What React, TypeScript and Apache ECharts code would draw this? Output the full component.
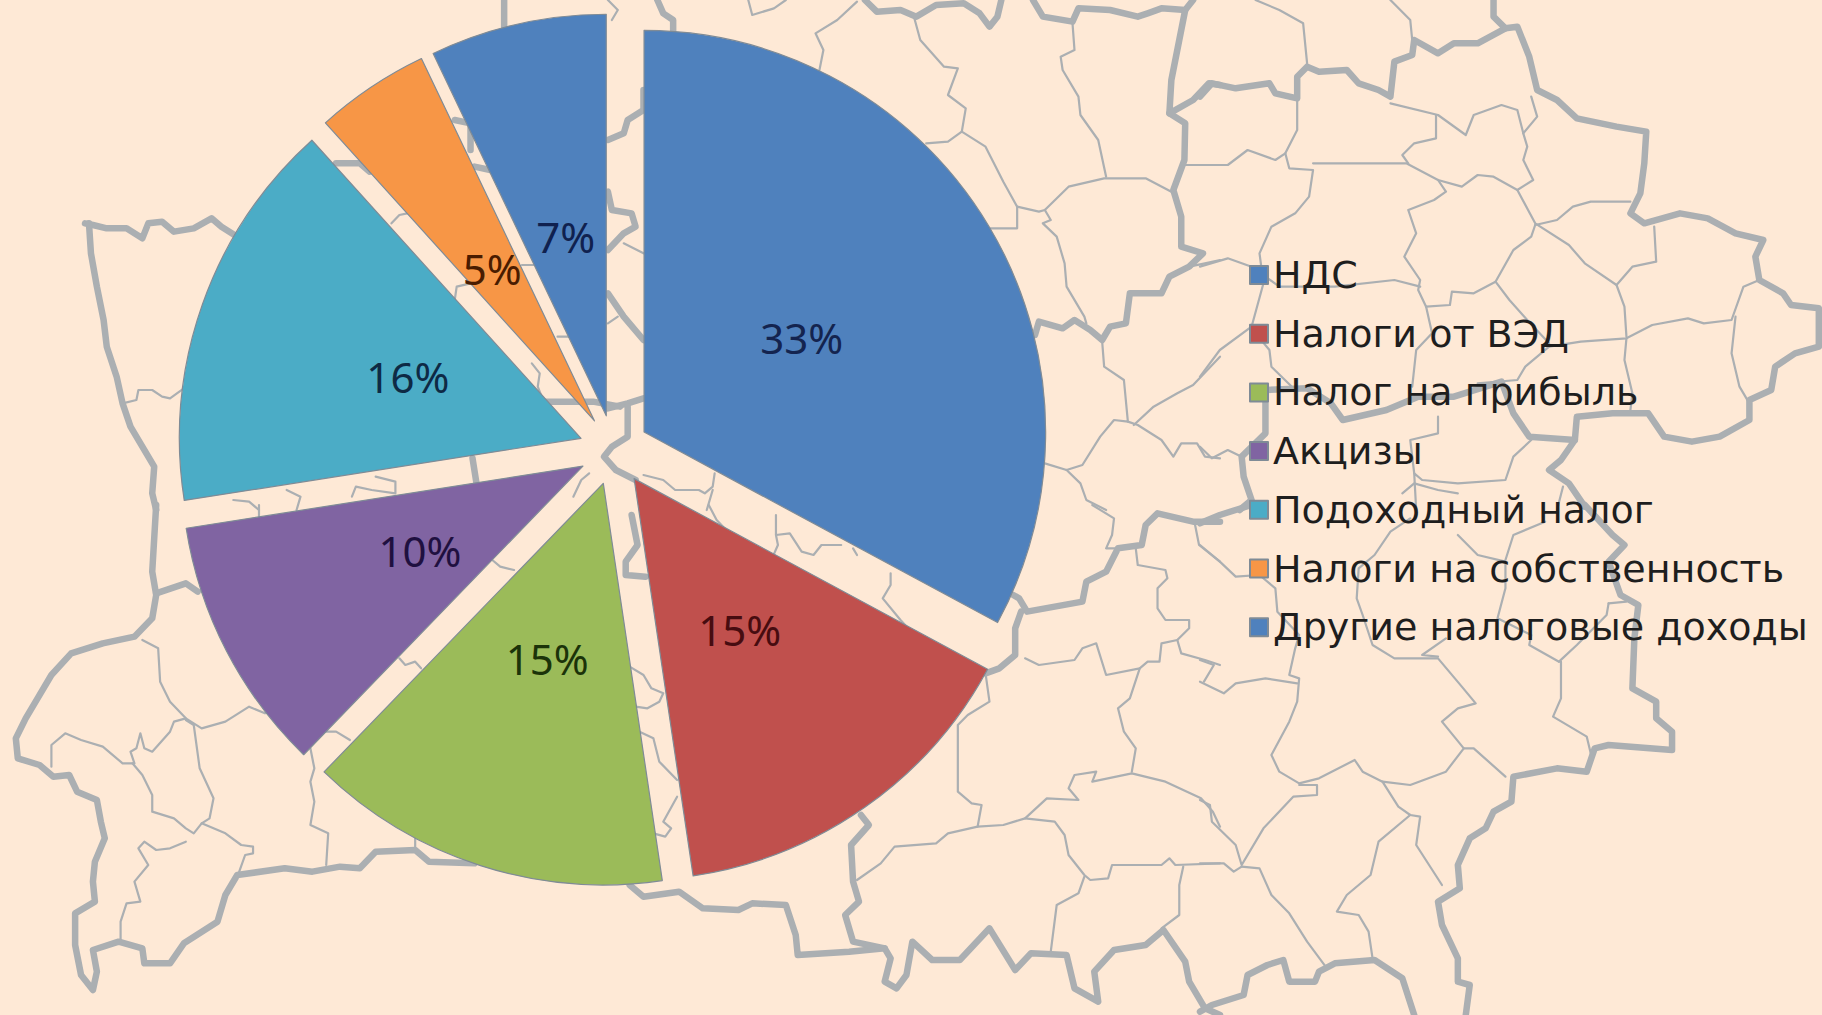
import React, { useEffect, useRef } from "react";
import * as echarts from "echarts";

const categories = ["НДС", "Налоги от ВЭД", "Налог на прибыль", "Акцизы", "Подоходный налог", "Налоги на собственность", "Другие налоговые доходы"];
const values = [32.9, 14.8, 14.6, 10.3, 15.8, 4.6, 7.1];
const colors = ["#4F81BD", "#C0504D", "#9BBB59", "#8064A2", "#4BACC6", "#F79646", "#4F81BD"];
const labelColors = ["#14244f", "#470c10", "#1b3309", "#1f1040", "#0e2a45", "#4a1c00", "#10214f"];

const crops: Record<string, [number, number, number]> = {
  A: [0, 0, 1568 / 620], B: [0, 505, 1568 / 620], C: [600, 0, 1568 / 620], D: [600, 505, 1568 / 620],
  E: [1200, 0, 1568 / 622], F: [1200, 505, 1568 / 622],
};
const thickLines: [string, number[]][] = [
  ["A", [215,670,235,675,270,685,320,685,360,715,375,670,410,665,440,695,490,685,535,655,560,680,600,710]],
  ["A", [225,670,230,760,245,860,262,960,270,1040,295,1130,310,1210,330,1280,360,1340,390,1400,385,1480,395,1530]],
  ["B", [395,0,390,100,385,200,395,270,385,340,340,395,260,415,180,445,130,510,95,580,65,640,40,700,45,760,100,780,135,815,175,810,195,860,245,885,255,950,265,1000,240,1070,235,1130,240,1190,190,1225,190,1320,205,1410,235,1455,245,1400,235,1335,300,1310,360,1330,365,1375,430,1375,465,1315,550,1250,570,1170,600,1110,720,1090,790,1100,860,1085,910,1090,950,1040,1050,1035,1085,1070,1200,1075]],
  ["B", [395,265,470,235,500,260]],
  ["A", [1275,0,1275,80]],
  ["A", [1150,360,1190,370,1190,450]],
  ["A", [1200,500,1240,510]],
  ["A", [850,490,910,490,935,515]],
  ["A", [1380,1205,1500,1205,1568,1220]],
  ["A", [1195,1375,1205,1450]],
  ["C", [145,0,160,40,185,60,185,100]],
  ["C", [20,420,60,400,70,360,110,330,110,270]],
  ["C", [20,575,30,630,80,640,90,680,60,700,20,750]],
  ["C", [20,880,60,950,110,1020]],
  ["C", [20,1225,70,1210,110,1195]],
  ["C", [70,1220,70,1310,30,1340,10,1370,40,1410,90,1440]],
  ["C", [670,0,700,35,760,30,800,50,850,15,920,10,960,40,985,80,1005,50,1015,0]],
  ["C", [1095,0,1120,50,1195,65,1210,25,1290,30,1360,50,1385,40,1420,25,1480,30,1500,0]],
  ["C", [1480,30,1465,120,1445,240,1440,340,1480,370,1478,480,1450,570,1470,650,1470,740,1525,760,1490,800,1440,830,1420,880,1340,880,1330,970,1290,980,1270,1020,1240,990,1200,960,1170,985,1110,965,1100,1005]],
  ["C", [1440,340,1500,300,1540,250,1568,255]],
  ["E", [0,290,30,250,90,265,175,250,190,280,245,295,245,230,270,200,300,215,370,210,400,250,450,270,480,290,490,185,535,165,540,120,600,160,640,130,700,130,770,85,740,50,740,0]],
  ["E", [770,85,800,80,830,170,850,270,900,300,950,355,1050,380,1125,395,1120,490,1110,580,1085,640,1120,670,1210,640,1280,655,1350,700,1420,720,1400,770,1410,840,1470,880,1490,915,1560,925,1560,1040,1500,1060,1450,1100,1440,1170,1385,1200,1385,1260,1310,1310,1240,1325,1170,1310,1130,1240,1040,1240,950,1250,945,1320,910,1380,880,1410,930,1450,970,1520]],
  ["E", [945,1320,830,1310,790,1240,760,1145,640,1190,550,1190,470,1230,360,1260,330,1210,270,1165,165,1170,165,1300,105,1370,110,1430,130,1500,100,1530]],
  ["F", [0,55,50,30,130,0]],
  ["F", [970,0,1040,90,1070,120,1030,170,1060,270,1105,300,1095,400,1090,550,1150,590,1150,640,1190,680,1190,735,1030,720,995,730,975,800,900,790,790,815,785,890,740,920,720,970,680,1000,650,1080,655,1150,600,1190,610,1260,650,1360,650,1430,680,1440,670,1530]],
  ["F", [0,1520,30,1500,110,1470,120,1410,170,1380,210,1365,225,1430,290,1430,300,1400,340,1375,440,1365,510,1420,540,1530]],
  ["D", [80,30,95,120,65,170,65,210,115,215]],
  ["D", [1568,50,1500,50,1410,25,1380,60,1370,120,1310,130,1280,200,1230,230,1220,290,1080,320,1060,280,1045,270]],
  ["D", [1065,320,1050,370,1050,450,1010,490,975,505]],
  ["D", [75,1140,110,1175,200,1160,260,1210,350,1215,385,1195,470,1200,495,1290,500,1350,630,1340,720,1330,735,1360,720,1430,750,1450,775,1410,790,1310,840,1365,910,1365,985,1270,1050,1395,1090,1345,1180,1350,1200,1450,1260,1490,1250,1400,1300,1335,1380,1320,1425,1275,1480,1370,1490,1430,1530,1510,1568,1530]],
  ["D", [660,930,680,960,635,1020,640,1130,655,1190,620,1230,640,1310,720,1330]],
];
const thinLines: [string, number[]][] = [
  ["A", [310,1210,345,1200,350,1170,385,1170,410,1190,430,1195,465,1165]],
  ["A", [990,670,1010,645,1030,640]],
  ["A", [1150,900,1155,860,1190,850]],
  ["A", [1345,1090,1365,1120,1360,1160,1375,1205]],
  ["A", [1410,1010,1440,1010]],
  ["A", [1320,795,1350,795]],
  ["A", [590,1500,630,1505,655,1530]],
  ["A", [725,1470,760,1490,750,1530]],
  ["A", [890,1490,900,1460,940,1470,1000,1480,1000,1445,950,1430]],
  ["A", [1450,1490,1470,1440,1490,1420]],
  ["B", [655,0,655,40]],
  ["B", [360,405,400,430,405,530,430,590,470,640,510,670,570,650,630,605,670,625]],
  ["B", [470,640,440,650,430,680,385,740,365,730,355,685,345,730,330,740,340,775,310,775,260,725,205,705,165,685,130,720,130,785]],
  ["B", [470,645,490,660,505,790,540,880,530,940,510,955,490,985,470,970,440,940,385,920,385,870,360,810,335,775]],
  ["B", [510,955,570,985,610,1020,640,1025,640,1045,620,1050,605,1100]],
  ["B", [470,1010,430,1030,395,1035,365,1010,350,1030,375,1080,340,1130,355,1190,320,1195,305,1250,305,1305]],
  ["B", [785,730,795,790,785,830,795,890,785,960,830,985,825,1080]],
  ["B", [1245,165,1265,185,1300,195]],
  ["B", [1010,460,1025,480,1050,470,1065,490]],
  ["B", [820,680,850,680,885,705]],
  ["B", [1050,1000,1050,1035]],
  ["C", [60,730,110,760]],
  ["C", [20,970,45,950]],
  ["C", [110,1425,160,1440,190,1470,250,1470,265,1480,285,1460,290,1420]],
  ["C", [270,1530,285,1470]],
  ["C", [650,5,600,60,545,100,565,150,555,210]],
  ["C", [795,55,810,120,870,200,905,205,880,285,925,325,915,395,880,425,825,430]],
  ["C", [915,395,975,440,1020,545,1055,620,1055,685,985,685]],
  ["C", [1055,620,1110,635,1125,630,1185,560,1275,535,1380,535,1445,575]],
  ["C", [1195,70,1200,150,1165,170,1170,210,1210,290,1215,345,1260,420,1280,530]],
  ["C", [1125,630,1140,660,1120,670,1155,710,1175,790,1180,860,1225,950,1230,970]],
  ["C", [1270,1025,1275,1100,1325,1140,1335,1265,1300,1260,1265,1310,1220,1395,1180,1410,1125,1390]],
  ["C", [1335,1265,1360,1275,1420,1320,1450,1370,1470,1330,1510,1330,1530,1370,1568,1375]],
  ["C", [1350,1275,1400,1220,1460,1180,1500,1155,1568,1070]],
  ["C", [1180,1410,1215,1450,1230,1500,1280,1530]],
  ["C", [1480,495,1568,495]],
  ["C", [1490,800,1530,790,1568,780]],
  ["C", [375,0,385,45,440,25,470,0]],
  ["C", [20,0,45,30,30,60]],
  ["D", [275,0,295,45,315,70]],
  ["D", [445,30,445,90,480,85,510,140,540,150,560,120,610,120]],
  ["D", [445,90,450,120,435,160]],
  ["D", [650,150,640,130]],
  ["D", [735,205,735,240,715,280,760,345,795,390]],
  ["D", [75,485,110,510,130,550,160,565,150,590,120,610,90,605]],
  ["D", [100,680,135,700,150,770,195,825]],
  ["D", [195,875,160,950,180,970,165,995,135,985]],
  ["D", [1245,0,1300,40,1295,90,1280,130,1310,130]],
  ["D", [1355,130,1360,180,1430,195,1435,220,1410,250,1410,310,1430,345,1490,345,1490,370,1460,405,1420,415,1415,470,1385,470,1365,490,1280,510,1255,415,1220,430,1200,465,1110,480,1075,460]],
  ["D", [1365,490,1340,580,1310,610,1325,680,1355,730,1345,800]],
  ["D", [1460,405,1470,445,1530,465,1568,480]],
  ["D", [975,505,985,590,930,630,905,660,905,780,905,860,940,895,965,900,955,965,1020,960,1075,940,1130,880,1210,885,1185,850,1200,810,1255,800,1245,830,1345,805,1430,830,1520,880,1550,920,1568,965]],
  ["D", [955,965,880,985,850,1015,745,1025,710,1075,650,1125]],
  ["D", [1075,940,1150,950,1175,990,1185,1050,1225,1110,1240,1125,1285,1120,1295,1080,1420,1080,1440,1060,1455,1080,1568,1075]],
  ["D", [1225,1115,1210,1165,1155,1200,1140,1340]],
  ["D", [1475,1085,1465,1140,1465,1230,1420,1270]],
  ["D", [1505,60,1515,120,1568,170]],
  ["E", [140,0,200,30,260,70,270,190]],
  ["E", [480,0,530,60,535,120]],
  ["E", [245,300,245,390,215,460,225,505,285,510,275,590,240,640,180,680,150,760,160,850,130,980,50,1050,0,1130]],
  ["E", [0,495,70,495,120,450,190,480,215,460]],
  ["E", [285,490,520,490,600,540,660,560,700,525,740,530,800,570,840,540,815,480,825,440,815,400,850,350,835,290]],
  ["E", [480,310,600,345,670,405,690,345,760,315,800,330,815,400]],
  ["E", [595,345,595,415,540,430,510,465,525,490]],
  ["E", [600,540,620,575,590,600,525,630,545,700,515,770,555,840,550,870,570,920,630,915,635,875,690,880,745,845,790,750,835,710,845,675]],
  ["E", [800,570,845,670,930,735,970,790,1050,855,1070,920,1075,1010]],
  ["E", [845,675,900,660,940,620,985,605,1085,605]],
  ["E", [1050,855,1090,800,1150,785,1145,680]],
  ["E", [0,800,70,775,130,800,200,860,340,860,490,840,555,860]],
  ["E", [570,920,585,1000,545,1050,535,1160]],
  ["E", [745,845,780,900,825,960,880,1030]],
  ["E", [880,1040,960,1025,1075,1015,1140,975,1230,955,1270,970,1340,960,1370,860,1410,840]],
  ["E", [880,1040,820,1100,800,1140,700,1150]],
  ["E", [1075,1015,1070,1080,1090,1180,1085,1230]],
  ["E", [1350,950,1340,1060,1360,1160,1385,1210]],
  ["E", [130,985,175,1050,180,1100,240,1170]],
  ["E", [835,1320,790,1370,770,1440,650,1450,560,1440,540,1420,545,1530]],
  ["E", [600,1250,600,1300,530,1320,540,1420]],
  ["E", [0,1340,30,1375,70,1350,105,1370]],
  ["E", [915,1460,900,1530]],
  ["E", [510,1480,540,1450,600,1470,650,1480]],
  ["F", [0,120,50,170,90,215,150,210,190,250,195,320,250,390,240,430,225,510,250,520,245,590,225,650,180,750,200,800,250,835,300,820,390,765,410,800,460,830,530,840,620,800,665,730,610,650,650,610,695,595,660,545,600,460,490,460,435,420,410,330,395,280,400,190,440,150,480,80,530,40]],
  ["F", [600,455,560,450,620,400]],
  ["F", [250,840,295,840,295,870,235,875,160,970,105,1080,90,1020,30,950,25,900,0,885]],
  ["F", [105,1085,150,1090,180,1170,225,1225,270,1310,320,1390]],
  ["F", [0,1075,60,1075,85,1100,105,1085]],
  ["F", [0,530,60,565,90,535,165,520,245,535]],
  ["F", [0,465,35,480,10,530]],
  ["F", [460,830,500,905,530,930,555,935,545,1020,610,1140]],
  ["F", [530,930,450,1010,430,1110,370,1170,345,1220,400,1230,425,1280,435,1360]],
  ["F", [665,730,690,730,770,815]],
  ["F", [910,470,910,580,890,635,975,695,985,745]],
  ["F", [905,470,830,420,835,390,750,340,770,250,770,170,700,150,650,90]],
  ["F", [770,165,790,90,870,50]],
  ["F", [1030,295,1025,330,950,420,905,470]],
  ["F", [1030,295,1075,290]],
];

const LABEL_FONT = "'Noto Sans', sans-serif";
const LEGEND_FONT = "'DejaVu Sans', sans-serif";
const RADIUS = 401.6;
const toPoints = (crop: string, flat: number[]) => {
  const [ox, oy, sx] = crops[crop];
  const pts: number[][] = [];
  for (let i = 0; i < flat.length; i += 2) pts.push([ox + flat[i] / sx, oy + flat[i + 1] / 3]);
  return pts;
};
const mapGraphic = (lines: [string, number[]][], width: number) =>
  lines.map(([c, f]) => ({
    type: "polyline",
    silent: true,
    z: 0,
    shape: { points: toPoints(c, f) },
    style: { stroke: "#abafb2", lineWidth: width, fill: "none", lineJoin: "round", lineCap: "round" },
  }));

const total = values.reduce((a, b) => a + b, 0);
const midAngles = values.map((v, i) => {
  const before = values.slice(0, i).reduce((a, b) => a + b, 0);
  return ((before + v / 2) / total) * Math.PI * 2;
});

export default function App() {
  const ref = useRef<HTMLDivElement>(null);
  useEffect(() => {
    document.body.style.margin = "0";
    const chart = echarts.init(ref.current!, undefined, { renderer: "svg" });
    chart.setOption({
      animation: false,
      backgroundColor: "#FEE9D6",
      graphic: { elements: [...mapGraphic(thinLines, 2.2), ...mapGraphic(thickLines, 6.5)] },
      legend: {
        orient: "vertical",
        left: 1244,
        top: 245,
        itemWidth: 18,
        itemHeight: 18,
        itemGap: 8.7,
        selectedMode: false,
        icon: "rect",
        textStyle: { fontFamily: LEGEND_FONT, fontSize: 38, color: "#1e1e1e", lineHeight: 42, padding: [8, 0, 0, 0] },
        data: categories,
      },
      series: [
        {
          type: "pie",
          center: [614, 450],
          radius: [0, RADIUS],
          startAngle: 90,
          clockwise: true,
          selectedMode: "multiple",
          selectedOffset: 35,
          avoidLabelOverlap: false,
          emphasis: { disabled: true },
          itemStyle: { borderColor: "#7f8b96", borderWidth: 1.2 },
          label: {
            show: true,
            position: "inside",
            fontFamily: LABEL_FONT,
            fontSize: 42,
            formatter: (p: any) => `${Math.round(p.value)}%`,
          },
          labelLine: { show: false },
          labelLayout: (p: any) => ({
            dx: -Math.sin(midAngles[p.dataIndex]) * RADIUS * 0.05,
            dy: Math.cos(midAngles[p.dataIndex]) * RADIUS * 0.05,
          }),
          data: categories.map((name, i) => ({
            name,
            value: values[i],
            selected: true,
            itemStyle: { color: colors[i] },
            label: { color: labelColors[i] },
          })),
        },
      ],
    });
    return () => chart.dispose();
  }, []);
  return <div ref={ref} style={{ position: "fixed", left: 0, top: 0, width: 1822, height: 1015 }} />;
}
